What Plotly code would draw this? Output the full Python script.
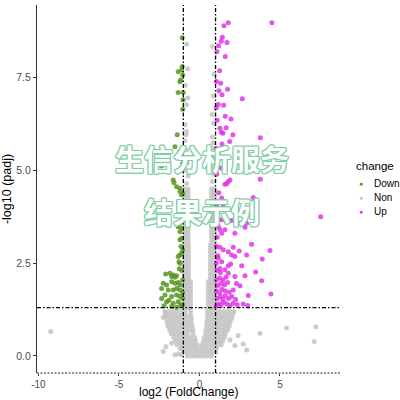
import plotly.graph_objects as go

# ---------------- data ----------------
down_x = [-1.07, -1.32, -1.07, -1.11, -1.04, -1.21, -1.17, -1.32, -1.01, -1.02, -1.04, -1.38, -1.52,
          -1.21, -2.35, -1.15, -1.04, -1.63, -1.58, -1.42, -1.21, -1.04, -1.21, -1.11, -1.30, -1.10,
          -1.20, -1.40, -1.21, -1.32, -1.11, -1.21, -1.11, -1.21, -1.15, -1.04, -1.11, -1.21, -1.32,
          -1.27, -1.21, -1.83, -1.63, -1.73, -1.52, -1.42, -2.10, -1.10, -1.25, -2.25, -2.04, -1.73,
          -1.52, -1.32, -1.21, -1.05, -2.35, -1.94, -1.63, -1.42, -1.21, -1.05, -2.14, -1.73, -1.42,
          -1.21, -2.35, -1.05, -1.90, -2.04, -1.63, -1.32, -1.17, -1.73, -1.42, -1.05, -2.20]
down_y = [8.58, 7.66, 7.80, 7.71, 7.57, 7.39, 7.44, 7.10, 7.10, 6.90, 6.65, 5.96, 5.64,
          5.51, 5.12, 5.37, 5.19, 4.74, 4.67, 4.56, 4.52, 4.38, 4.43, 4.34, 4.15, 4.05,
          3.90, 3.80, 3.58, 3.48, 3.44, 3.35, 3.17, 3.13, 2.95, 2.86, 2.77, 2.72, 2.68,
          2.54, 2.50, 2.23, 2.18, 2.14, 2.12, 2.16, 2.21, 2.30, 2.35, 1.96, 1.91, 2.00,
          1.96, 1.98, 1.91, 2.05, 1.82, 1.78, 1.78, 1.82, 1.78, 1.70, 1.64, 1.60, 1.64,
          1.60, 1.55, 1.55, 1.50, 1.46, 1.42, 1.46, 1.37, 1.33, 1.31, 1.38, 1.35]

up_x = [1.79, 1.52, 4.50, 1.42, 1.36, 1.71, 1.19, 1.60, 1.25, 1.32, 1.75, 1.21, 1.40, 2.66, 1.17,
        1.50, 1.04, 1.60, 1.96, 1.27, 1.66, 1.36, 1.46, 2.08, 3.78, 1.40, 1.88, 1.17, 1.27, 1.15,
        1.38, 1.90, 1.79, 1.69, 1.58, 3.78, 7.53, 3.34, 2.33, 1.38, 1.48, 1.17, 1.05, 1.07, 1.27,
        1.48, 2.00, 2.52, 2.83, 2.93, 1.17, 1.27, 1.58, 1.38, 2.20, 3.24, 4.38, 1.27, 1.48, 1.79,
        2.10, 2.47, 2.93, 3.90, 2.00, 2.20, 1.17, 1.38, 1.79, 1.94, 2.62, 1.27, 1.58, 2.83, 3.49,
        1.79, 2.20, 3.86, 2.52, 4.44, 3.03, 2.72, 2.99,
        1.05, 1.20, 1.35, 1.50, 1.70, 1.90, 2.10, 2.35, 1.10, 1.30, 1.45, 1.60, 1.80, 2.00, 2.25,
        1.05, 1.25, 1.40, 1.60, 1.85, 2.10, 1.15, 1.35, 1.55, 1.75, 2.30, 1.05, 1.25, 1.45, 1.65,
        1.10, 1.30, 1.05, 1.15, 1.05, 1.10, 1.05, 1.10, 1.20, 1.08, 1.05, 1.10, 1.05, 1.08]
up_y = [8.98, 8.90, 8.98, 8.59, 8.48, 8.45, 8.36, 8.07, 7.69, 7.35, 7.19, 7.15, 7.04, 6.93, 6.78,
        6.76, 6.69, 6.46, 6.39, 6.14, 6.15, 6.03, 6.00, 5.96, 5.88, 5.71, 5.78, 5.46, 5.33, 5.10,
        5.06, 4.74, 4.70, 4.64, 4.63, 4.76, 3.75, 4.27, 3.91, 4.26, 4.02, 3.89, 3.89, 3.75, 3.67,
        3.67, 3.65, 3.58, 3.47, 3.58, 3.49, 3.41, 3.40, 3.31, 3.31, 3.01, 2.84, 2.93, 2.86, 2.81,
        2.93, 2.83, 2.72, 2.61, 2.72, 2.68, 2.63, 2.54, 2.43, 2.48, 2.43, 2.36, 2.32, 2.16, 2.26,
        2.23, 2.14, 2.03, 1.89, 1.67, 1.63, 1.40, 1.36,
        1.35, 1.40, 1.38, 1.45, 1.40, 1.36, 1.42, 1.38, 1.55, 1.60, 1.52, 1.62, 1.55, 1.60, 1.52,
        1.75, 1.70, 1.80, 1.75, 1.72, 1.78, 1.90, 1.95, 1.92, 1.98, 1.95, 2.05, 2.10, 2.05, 2.12,
        2.30, 2.25, 2.50, 2.70, 2.95, 3.20, 3.55, 4.10, 4.40, 4.90, 5.60, 6.35, 7.40, 8.20]

# non-significant genes, read row by row (y level, x positions)
non_row_y = [0.0, 0.1, 0.2, 0.3, 0.4, 0.5, 0.6, 0.7, 0.8, 0.9, 1.0, 1.1, 1.2]
non_row_x = [
    [-0.75, -0.5, -0.25, 0.0, 0.25, 0.5, 0.75],
    [-1.0, -0.75, -0.5, -0.25, 0.0, 0.25, 0.5, 0.75, 1.0],
    [-1.2, -0.95, -0.7, -0.45, -0.2, 0.05, 0.3, 0.55, 0.8, 1.05],
    [-1.4, -1.15, -0.9, -0.65, -0.4, -0.15, 0.15, 0.4, 0.65, 0.9, 1.15, 1.35],
    [-1.5, -1.25, -1.0, -0.75, -0.5, -0.25, 0.25, 0.5, 0.75, 1.0, 1.25, 1.45],
    [-1.6, -1.35, -1.1, -0.85, -0.6, -0.3, 0.3, 0.55, 0.8, 1.05, 1.3, 1.55],
    [-1.75, -1.5, -1.25, -1.0, -0.75, -0.4, 0.4, 0.65, 0.9, 1.15, 1.4, 1.6],
    [-1.85, -1.6, -1.35, -1.1, -0.85, -0.6, -0.4, 0.4, 0.65, 0.9, 1.15, 1.4, 1.6, 1.75],
    [-1.95, -1.7, -1.45, -1.2, -0.95, -0.7, -0.45, 0.45, 0.7, 0.95, 1.2, 1.45, 1.65, 1.85],
    [-2.0, -1.75, -1.5, -1.25, -1.0, -0.75, -0.5, 0.45, 0.7, 0.95, 1.2, 1.45, 1.7, 1.9],
    [-2.05, -1.8, -1.55, -1.3, -1.05, -0.8, -0.5, 0.5, 0.75, 1.0, 1.25, 1.5, 1.75, 2.0],
    [-2.1, -1.85, -1.6, -1.35, -1.1, -0.85, -0.55, 0.5, 0.75, 1.0, 1.25, 1.5, 1.75, 2.05],
    [-2.15, -1.9, -1.65, -1.4, -1.15, -0.9, -0.55, 0.5, 0.75, 1.0, 1.25, 1.5, 1.75, 1.95, 2.15],
]
arm_row_y = [1.3, 1.4, 1.5, 1.6, 1.7, 1.8, 1.9, 2.0, 2.1, 2.2, 2.3, 2.4, 2.5, 2.6, 2.7, 2.8,
             2.9, 3.0, 3.1, 3.2, 3.3, 3.4, 3.5, 3.6, 3.7, 3.8, 3.9, 4.0, 4.1, 4.2, 4.3, 4.4, 4.5]
arm_row_x = ([[-0.95, -0.75, -0.55, 0.55, 0.75, 0.95]] * 8
             + [[-0.92, -0.68, 0.68, 0.92]] * 10
             + [[-0.9, -0.7, 0.75, 0.92]] * 15)
non_sparse_x = [-0.80, -0.70, -0.85, -0.75, -0.90, -0.80, -0.90, -0.80, -0.90, -0.84, -0.80, -0.73,
                -0.73, -0.80, -0.88, 0.80, 0.90, 0.75, 0.85, 0.90, 0.80, 0.88, 0.78, 0.86, 0.80,
                0.90, 0.85, -9.24, 5.41, 7.22, 7.13, 3.76, 2.93, 2.72, 2.20, 1.90, -2.25, -2.08,
                -1.52, -1.73, -1.10, -2.25, -2.10, -1.30, 2.40]
non_sparse_y = [4.65, 4.85, 5.00, 5.20, 5.35, 5.55, 5.80, 6.05, 6.23, 5.96, 6.77, 6.95,
                7.74, 8.40, 7.30, 4.70, 4.90, 5.10, 5.35, 5.60, 5.90, 6.27, 6.51, 7.01, 8.34,
                7.60, 5.75, 0.66, 0.75, 0.79, 0.39, 0.61, 0.16, 0.32, 0.28, 0.43, 0.12, 0.25,
                0.03, 0.34, 0.03, 1.04, 1.15, 0.05, 0.55]

x_ticks = [-10, -5, 0, 5]
x_tick_text = ["-10", "-5", "0", "5"]
y_ticks = [0, 2.5, 5, 7.5]
y_tick_text = ["0.0", "2.5", "5.0", "7.5"]
fc_cut = 1.0
p_cut = 1.30103
groups = ["Down", "Non", "Up"]
colors = {"Down": "#56961f", "Non": "#c3c3c3", "Up": "#e234e6"}

# ---------------- build ----------------
non_x, non_y = [], []
for yy, xs in list(zip(non_row_y, non_row_x)) + list(zip(arm_row_y, arm_row_x)):
    non_x += xs
    non_y += [yy] * len(xs)
non_x += non_sparse_x
non_y += non_sparse_y

fig = go.Figure()
for name, xs, ys in [("Non", non_x, non_y), ("Down", down_x, down_y), ("Up", up_x, up_y)]:
    fig.add_trace(go.Scatter(x=xs, y=ys, mode="markers", name=name, showlegend=False,
                             marker=dict(size=5, color=colors[name], opacity=0.85, line=dict(width=0))))

dash = "4px,2px,1.5px,2px"
for xv in (-fc_cut, fc_cut):
    fig.add_shape(type="line", xref="x", yref="paper", x0=xv, x1=xv, y0=0, y1=1,
                  line=dict(color="black", width=1.3, dash=dash))
fig.add_shape(type="line", xref="paper", yref="y", x0=0, x1=1, y0=p_cut, y1=p_cut,
              line=dict(color="black", width=1.3, dash=dash))
fig.add_shape(type="line", xref="paper", yref="paper", x0=0, x1=1, y0=0, y1=0,
              line=dict(color="#222222", width=1.2, dash="2px,1.5px"))

fig.update_layout(
    width=400, height=400,
    margin=dict(l=37, r=60, t=5, b=27),
    paper_bgcolor="white", plot_bgcolor="white",
    font=dict(family="Liberation Sans, Arial, sans-serif", color="black"),
    xaxis=dict(range=[-10.09, 8.73], tickvals=x_ticks, ticktext=x_tick_text, showgrid=False,
               zeroline=False, showline=False, ticks="outside", ticklen=2, tickcolor="#333333",
               tickfont=dict(size=10, color="#4d4d4d"), automargin=False),
    yaxis=dict(range=[-0.46, 9.46], tickvals=y_ticks, ticktext=y_tick_text, showgrid=False,
               zeroline=False, showline=True, linecolor="#333333", linewidth=1,
               ticks="outside", ticklen=3, tickcolor="#333333", automargin=False,
               tickfont=dict(size=10.5, color="#4d4d4d"),
               title=dict(text="-log10 (padj)", font=dict(size=12.5, color="black"), standoff=5)),
)

# x-axis title as a text annotation, bottom-anchored so it stays inside the picture
fig.add_annotation(xref="paper", yref="paper", x=(188 - 37) / 303, y=(373 - 400) / 368,
                   text="log2 (FoldChange)", showarrow=False, xanchor="center", yanchor="bottom",
                   borderpad=0, font=dict(size=12, color="black"))

# legend drawn as text
fig.add_annotation(xref="paper", yref="paper", x=1.046, y=0.563, text="change", showarrow=False,
                   xanchor="left", yanchor="middle", font=dict(size=11.5, color="black"))
for g, yp in zip(groups, [0.516, 0.477, 0.438]):
    fig.add_annotation(xref="paper", yref="paper", x=1.069, y=yp, text="●", showarrow=False,
                       xanchor="center", yanchor="middle", font=dict(size=7, color=colors[g]))
    fig.add_annotation(xref="paper", yref="paper", x=1.106, y=yp, text=g, showarrow=False,
                       xanchor="left", yanchor="middle", font=dict(size=10, color="black"))

# watermark
wm = "#7ccd9f"
shadow = ", ".join(f"{a}px {b}px 0 {wm}" for a, b in
                   [(1, 0), (-1, 0), (0, 1), (0, -1), (1, 1), (-1, -1), (1, -1), (-1, 1)])
for txt, yp in [("生信分析服务", (373 - 158) / 368), ("结果示例", (373 - 211) / 368)]:
    fig.add_annotation(xref="paper", yref="paper", x=(202 - 37) / 303, y=yp, text=txt,
                       showarrow=False, xanchor="center", yanchor="middle",
                       font=dict(family="Noto Sans CJK SC", size=29, weight="bold",
                                 color="white", shadow=shadow))

fig.write_html("out.html", config={"displayModeBar": False},
               post_script="document.body.style.margin='0';document.body.style.overflow='hidden';")
